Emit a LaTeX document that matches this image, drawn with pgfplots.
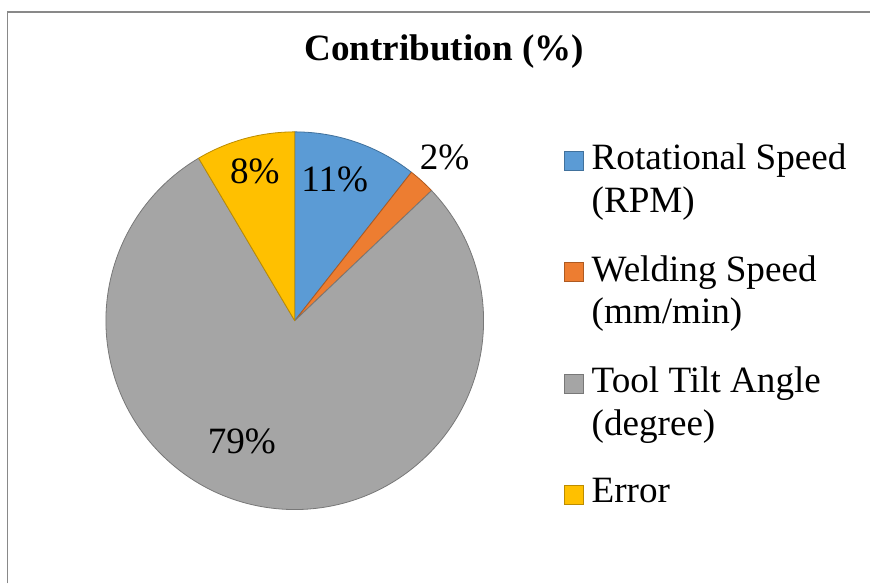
\documentclass[border=0pt]{standalone}
\usepackage{fontspec}
\setmainfont{Liberation Serif}
\usepackage{pgfplots}
\usepackage{pgfplotstable}
\pgfplotsset{compat=1.18}

\definecolor{c0}{HTML}{5B9BD5}\definecolor{e0}{HTML}{41719C}
\definecolor{c1}{HTML}{ED7D31}\definecolor{e1}{HTML}{AE5A21}
\definecolor{c2}{HTML}{A5A5A5}\definecolor{e2}{HTML}{787878}
\definecolor{c3}{HTML}{FFC000}\definecolor{e3}{HTML}{BC8C00}
\definecolor{frame}{HTML}{898989}

% share in %, printed label, label position (1 unit = 1bp)
\pgfplotstableread{
part share shown lx  ly
0    10.6  11    335 404
1    2.3   2     445 426
2    78.6  79    242 142
3    8.5   8     255 412
}\pietable

% slice boundaries, clockwise from 12 o'clock
\def\cumul{0}
\pgfplotsforeachungrouped \i in {0,...,3}{%
  \pgfplotstablegetelem{\i}{share}\of\pietable
  \pgfmathsetmacro\startang{90-3.6*\cumul}%
  \pgfmathsetmacro\newcumul{\cumul+\pgfplotsretval}%
  \pgfmathsetmacro\endang{90-3.6*\newcumul}%
  \expandafter\xdef\csname pieS\i\endcsname{\startang}%
  \expandafter\xdef\csname pieE\i\endcsname{\endang}%
  \xdef\cumul{\newcumul}%
}

\newcommand\bigfont{\fontsize{37.3}{42.5}\selectfont}

\begin{document}
\begin{tikzpicture}
\begin{axis}[
x=1bp, y=1bp,
xmin=0, xmax=871, ymin=0, ymax=584,
hide axis, clip=false,
legend style={at={(564/871,442/584)}, anchor=north west, draw=none, fill=none,
  inner sep=0pt, font=\bigfont, row sep=38bp, column sep=6bp, cells={anchor=base west}},
legend cell align=left,
legend image code/.code={\draw[line width=1bp,#1] (0bp,8.5bp) rectangle (19bp,27.5bp);},
]
\path (axis cs:0,0) rectangle (axis cs:871,584);
\pgfplotsinvokeforeach{0,...,3}{
  \fill[fill=c#1, draw=e#1, line width=0.8bp, line join=round]
    (axis cs:295,263) -- ++(\csname pieS#1\endcsname:189bp)
    arc[start angle=\csname pieS#1\endcsname, end angle=\csname pieE#1\endcsname, radius=189bp] -- cycle;
}
\addplot[draw=none, no marks, forget plot, point meta=explicit symbolic,
  nodes near coords={\pgfplotspointmeta\%}, nodes near coords align=center,
  every node near coord/.append style={font=\bigfont, inner sep=0pt}]
  table[x=lx, y=ly, meta=shown] {\pietable};
\addlegendimage{fill=c0, draw=e0}
\addlegendentry[align=left]{Rotational Speed\\(RPM)}
\addlegendimage{fill=c1, draw=e1}
\addlegendentry[align=left]{Welding Speed\\(mm/min)}
\addlegendimage{fill=c2, draw=e2}
\addlegendentry[align=left]{Tool Tilt Angle\\(degree)}
\addlegendimage{fill=c3, draw=e3}
\addlegendentry[align=left]{Error\\\mbox{}}
\node[font=\bfseries\bigfont, anchor=base] at (axis cs:444.5,523) {Contribution (\%)};
\draw[frame, line width=1.5bp] (axis cs:7.5,0) -- (axis cs:7.5,572) -- (axis cs:871,572);
\end{axis}
\end{tikzpicture}
\end{document}
